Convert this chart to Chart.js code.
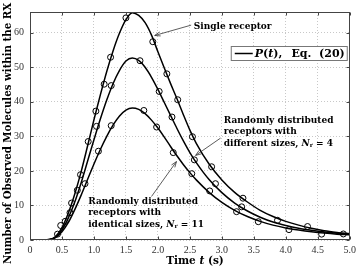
<!DOCTYPE html>
<html>
<head>
<meta charset="utf-8">
<script src="https://cdn.jsdelivr.net/npm/chart.js@4.4.1/dist/chart.umd.min.js"></script>
<style>
  html, body { margin: 0; padding: 0; background: #fff; }
  canvas { display: block; }
</style>
</head>
<body>
<canvas id="chart" width="360" height="270"></canvas>
<script>
// analytical curves P(t), sampled from the figure
const timeS = [0, 0.1, 0.2, 0.3, 0.4, 0.5, 0.6, 0.7, 0.8, 0.9, 1.0, 1.1, 1.2, 1.3, 1.4, 1.5, 1.6, 1.7, 1.8, 1.9,
  2.0, 2.1, 2.2, 2.3, 2.4, 2.5, 2.6, 2.8, 3.0, 3.2, 3.4, 3.6, 3.8, 4.0, 4.2, 4.4, 4.6, 4.8, 5.0];
const singleCurve = [0, 0, 0.02, 0.15, 1.0, 3.6, 7.8, 13.3, 19.8, 27.2, 34.8, 42.0, 48.8, 54.8, 59.9, 63.8, 65.8, 65.0, 62.9, 59.3,
  54.5, 49.8, 45.2, 40.8, 36.2, 31.8, 28.0, 22.0, 17.4, 13.8, 11.0, 8.6, 6.8, 5.4, 4.3, 3.4, 2.7, 2.2, 1.8];
const diffCurve = [0, 0, 0.02, 0.12, 0.8, 2.9, 6.4, 11.0, 16.6, 22.8, 29.0, 35.0, 40.5, 45.3, 49.1, 51.8, 52.7, 52.0, 50.0, 47.1,
  43.6, 39.8, 36.0, 32.2, 28.6, 25.3, 22.4, 17.5, 13.7, 10.7, 8.4, 6.6, 5.2, 4.2, 3.4, 2.8, 2.3, 1.95, 1.7];
const identCurve = [0, 0, 0.02, 0.1, 0.7, 2.4, 5.1, 8.8, 13.0, 17.5, 22.0, 26.2, 30.0, 33.3, 35.9, 37.6, 38.2, 37.8, 36.6, 34.7,
  32.4, 29.8, 27.0, 24.3, 21.8, 19.5, 17.4, 13.8, 10.9, 8.6, 6.8, 5.4, 4.3, 3.5, 2.9, 2.4, 2.0, 1.7, 1.5];

// simulation results (circles)
const singleSimT = [0.55, 0.65, 0.79, 0.91, 1.03, 1.16, 1.26, 1.5, 1.92, 2.14, 2.31, 2.54, 2.84, 3.33, 4.34];
const singleSimN = [5.4, 10.7, 18.9, 28.5, 37.3, 45.1, 52.9, 64.3, 57.4, 48.1, 40.6, 29.9, 21.2, 12.1, 3.9];
const diffSimT = [0.48, 0.74, 1.04, 1.27, 1.72, 2.02, 2.22, 2.57, 2.9, 3.31, 3.87, 4.9];
const diffSimN = [4.2, 14.4, 32.9, 44.7, 51.9, 43.0, 35.6, 23.2, 16.3, 9.6, 5.7, 1.75];
const identSimT = [0.43, 0.625, 0.86, 1.07, 1.27, 1.78, 1.98, 2.24, 2.53, 2.81, 3.23, 3.57, 4.05, 4.56];
const identSimN = [1.7, 7.9, 16.3, 25.7, 33.1, 37.5, 32.7, 25.3, 19.2, 14.2, 8.2, 5.3, 3.0, 1.7];

const xTickStep = 0.5;
const yTickStep = 10;

const pts = (xs, ys) => xs.map((x, i) => ({ x, y: ys[i] }));
const BOLD = 'bold 9px "DejaVu Serif"';
const BOLD_IT = 'italic bold 9px "DejaVu Serif"';
const SUB = 'bold 6px "DejaVu Serif"';

function runs(ctx, x, y, parts) {
  for (const [s, f, dy] of parts) {
    ctx.font = f;
    ctx.fillText(s, x, y + (dy || 0));
    x += ctx.measureText(s).width;
  }
  return x;
}

function arrow(ctx, x0, y0, x1, y1) {
  const a = Math.atan2(y1 - y0, x1 - x0), h = 6, w = 0.35;
  ctx.beginPath();
  ctx.moveTo(x0, y0); ctx.lineTo(x1, y1);
  ctx.moveTo(x1 - h * Math.cos(a - w), y1 - h * Math.sin(a - w));
  ctx.lineTo(x1, y1);
  ctx.lineTo(x1 - h * Math.cos(a + w), y1 - h * Math.sin(a + w));
  ctx.stroke();
}

const overlay = {
  id: 'overlay',
  afterDraw(chart) {
    const { ctx, chartArea: a, scales: { x, y } } = chart;
    const px = t => x.getPixelForValue(t), py = v => y.getPixelForValue(v);
    ctx.save();
    // axes box + small inward ticks
    ctx.strokeStyle = '#444';
    ctx.lineWidth = 1;
    const L = Math.round(a.left) + 0.5, R = Math.round(a.right) - 0.5, T = Math.round(a.top) + 0.5, B = Math.round(a.bottom) - 0.5;
    ctx.strokeRect(L, T, R - L, B - T);
    ctx.beginPath();
    x.ticks.forEach(t => {
      const p = Math.round(px(t.value)) + 0.5;
      ctx.moveTo(p, B); ctx.lineTo(p, B - 3);
      ctx.moveTo(p, T); ctx.lineTo(p, T + 3);
    });
    y.ticks.forEach(t => {
      const p = Math.round(py(t.value)) + 0.5;
      ctx.moveTo(L, p); ctx.lineTo(L + 3, p);
      ctx.moveTo(R, p); ctx.lineTo(R - 3, p);
    });
    ctx.stroke();

    // legend
    const lx = a.right - 119, ly = a.top + 34;
    ctx.fillStyle = '#fff';
    ctx.fillRect(lx, ly, 117, 15);
    ctx.strokeStyle = '#777';
    ctx.strokeRect(lx + 0.5, ly + 0.5, 116, 14);
    ctx.strokeStyle = '#000';
    ctx.lineWidth = 1.5;
    ctx.beginPath(); ctx.moveTo(lx + 4, ly + 7.5); ctx.lineTo(lx + 22, ly + 7.5); ctx.stroke();
    ctx.fillStyle = '#000';
    ctx.textBaseline = 'middle';
    const f11 = 'bold 11px "DejaVu Serif"', f11i = 'italic bold 11px "DejaVu Serif"';
    runs(ctx, lx + 24, ly + 8, [['P', f11i], ['(', f11], ['t', f11i], ['),', f11]]);
    ctx.textAlign = 'right';
    ctx.font = f11;
    ctx.fillText('Eq.  (20)', lx + 114, ly + 8);
    ctx.textAlign = 'left';

    // annotations
    ctx.strokeStyle = '#333';
    ctx.lineWidth = 0.8;
    ctx.font = BOLD;
    ctx.fillText('Single receptor', px(2.56), py(61.9));
    arrow(ctx, px(2.52), py(62.2), px(1.95), py(59.2));

    ctx.fillText('Randomly distributed', px(3.03), py(34.6));
    ctx.fillText('receptors with', px(3.03), py(31.3));
    runs(ctx, px(3.03), py(27.9), [['different sizes, ', BOLD], ['N', BOLD_IT], ['r', SUB, 2], [' = 4', BOLD]]);
    arrow(ctx, px(2.98), py(29.5), px(2.59), py(24.5));

    ctx.font = BOLD;
    ctx.fillText('Randomly distributed', px(0.91), py(11.2));
    ctx.fillText('receptors with', px(0.91), py(7.8));
    runs(ctx, px(0.91), py(4.4), [['identical sizes, ', BOLD], ['N', BOLD_IT], ['r', SUB, 2], [' = 11', BOLD]]);
    arrow(ctx, px(1.9), py(12.6), px(2.29), py(22.7));

    // axis titles
    const ft = 'bold 10.5px "DejaVu Serif"', fti = 'italic bold 10.5px "DejaVu Serif"';
    ctx.font = ft;
    let wT = ctx.measureText('Time  (s)').width;
    ctx.font = fti;
    wT += ctx.measureText('t').width;
    runs(ctx, 195 - wT / 2, 261, [['Time ', ft], ['t', fti], [' (s)', ft]]);
    ctx.translate(8.5, 133.5);
    ctx.rotate(-Math.PI / 2);
    ctx.textAlign = 'center';
    ctx.font = 'bold 10.2px "DejaVu Serif"';
    ctx.fillText('Number of Observed Molecules within the RX', 0, 0);
    ctx.restore();
  }
};

const curveStyle = { showLine: true, borderColor: '#000', borderWidth: 1.5, pointRadius: 0, cubicInterpolationMode: 'monotone', fill: false };
const simStyle = { showLine: false, pointStyle: 'circle', pointRadius: 3, borderColor: '#000', borderWidth: 1, backgroundColor: 'rgba(0,0,0,0)' };

new Chart(document.getElementById('chart'), {
  type: 'scatter',
  data: {
    datasets: [
      { label: 'single sim', data: pts(singleSimT, singleSimN), ...simStyle },
      { label: 'diff sim', data: pts(diffSimT, diffSimN), ...simStyle },
      { label: 'ident sim', data: pts(identSimT, identSimN), ...simStyle },
      { label: 'P(t), Eq. (20)', data: pts(timeS, singleCurve), ...curveStyle },
      { label: 'P(t) diff', data: pts(timeS, diffCurve), ...curveStyle },
      { label: 'P(t) ident', data: pts(timeS, identCurve), ...curveStyle }
    ]
  },
  options: {
    responsive: false,
    animation: false,
    devicePixelRatio: 1,
    layout: { padding: { left: 0, right: 10, top: 2, bottom: 0 } },
    plugins: { legend: { display: false }, tooltip: { enabled: false } },
    scales: {
      x: {
        type: 'linear', min: 0, max: 5,
        afterFit: s => { s.height = 30; },
        ticks: { stepSize: xTickStep, padding: 4, color: '#333', font: { family: 'Liberation Serif', size: 10 }, maxRotation: 0 },
        grid: { color: '#c8c8c8', lineWidth: 1, drawTicks: false },
        border: { display: false, dash: [1, 2] }
      },
      y: {
        type: 'linear', min: 0, max: 66,
        afterFit: s => { s.width = 30; },
        afterBuildTicks: s => { s.ticks = s.ticks.filter(t => t.value % yTickStep === 0); },
        ticks: { stepSize: yTickStep, padding: 6, color: '#333', font: { family: 'Liberation Serif', size: 10 } },
        grid: { color: '#c8c8c8', lineWidth: 1, drawTicks: false },
        border: { display: false, dash: [1, 2] }
      }
    }
  },
  plugins: [overlay]
});
</script>
</body>
</html>
